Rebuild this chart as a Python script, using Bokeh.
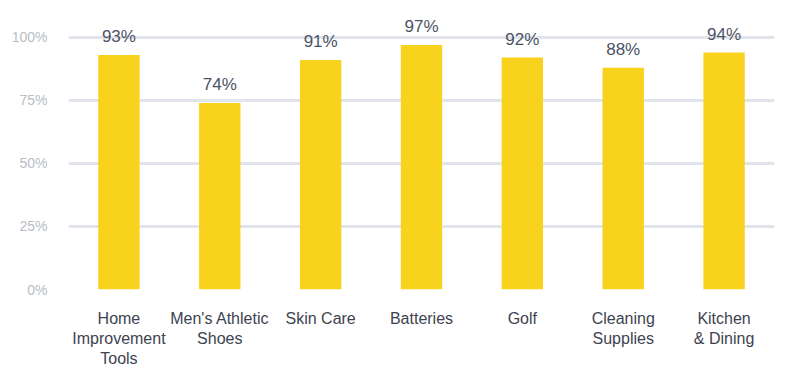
from bokeh.plotting import figure
from bokeh.models import ColumnDataSource, FixedTicker, NumeralTickFormatter, Range1d
from bokeh.core.properties import value
from bokeh.embed import file_html
from bokeh.resources import INLINE

categories = ["Home\nImprovement\nTools", "Men's Athletic\nShoes", "Skin Care", "Batteries",
              "Golf", "Cleaning\nSupplies", "Kitchen\n& Dining"]
shares = [0.93, 0.74, 0.91, 0.97, 0.92, 0.88, 0.94]
share_labels = ["93%", "74%", "91%", "97%", "92%", "88%", "94%"]
y_ticks = [0, 0.25, 0.5, 0.75, 1.0]

src = ColumnDataSource(dict(cat=categories, share=shares, label=share_labels))

p = figure(x_range=categories, y_range=Range1d(0, 1.083), width=784, height=379,
           output_backend="svg", toolbar_location=None,
           min_border_left=68, min_border_right=10, min_border_top=16, min_border_bottom=90)
p.outline_line_color = None
p.background_fill_color = "white"
p.border_fill_color = "white"

p.vbar(x="cat", top="share", width=0.41, source=src, fill_color="#F8D21C",
       line_color=None)
p.text(x="cat", y="share", text="label", source=src, text_align="center",
       text_baseline="bottom", y_offset=-9, text_font=value("Liberation Sans"),
       text_font_size="17px", text_color="#4a5366")

p.xgrid.grid_line_color = None
p.ygrid.grid_line_color = "#e1e4ea"
p.ygrid.grid_line_width = 3
p.ygrid.ticker = FixedTicker(ticks=y_ticks)

p.yaxis.ticker = FixedTicker(ticks=y_ticks)
p.yaxis.formatter = NumeralTickFormatter(format="0%")
p.yaxis.axis_line_color = None
p.yaxis.major_tick_line_color = None
p.yaxis.minor_tick_line_color = None
p.yaxis.major_label_text_color = "#b8bdc7"
p.yaxis.major_label_text_font = "Liberation Sans"
p.yaxis.major_label_text_font_size = "14px"
p.yaxis.major_label_standoff = 15

p.xaxis.axis_line_color = None
p.xaxis.major_tick_line_color = None
p.xaxis.minor_tick_line_color = None
p.xaxis.major_label_text_color = "#3d4350"
p.xaxis.major_label_text_font = "Liberation Sans"
p.xaxis.major_label_text_font_size = "16px"
p.xaxis.major_label_standoff = 14

open("out.html", "w").write(file_html(p, INLINE))
